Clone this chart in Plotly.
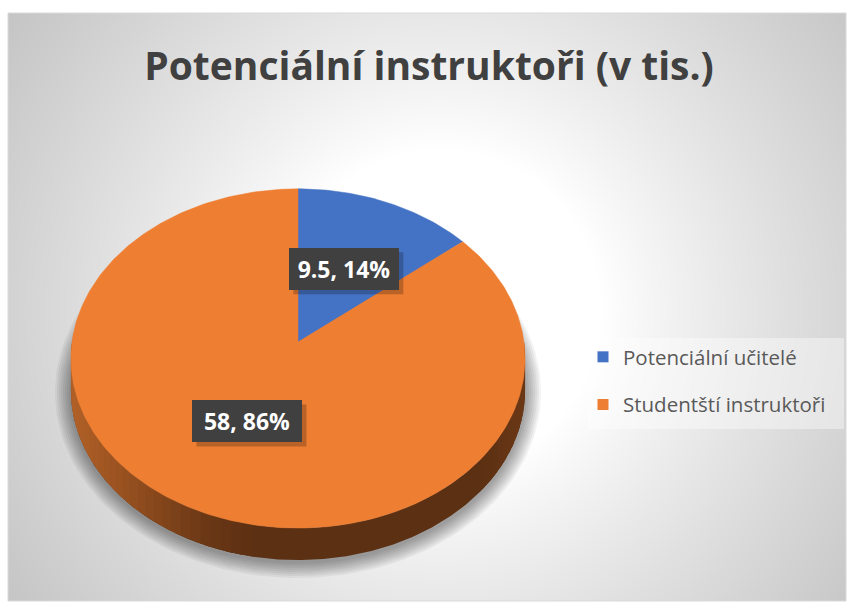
import numpy as np
import plotly.graph_objects as go

# ---------------- data ----------------
title_text = "Potenciální instruktoři (v tis.)"
categories = ["Potenciální učitelé", "Studentští instruktoři"]
values = [9.5, 58]
colors = ["#4472C4", "#EE7E32"]

# ---------------- layout constants (pixel space) ----------------
W, H = 847, 603
FX0, FY0, FX1, FY1 = 8, 13, 846, 601      # chart frame
CX, CY = 298, 342                          # projected pie centre
A, C, K = 226, 168, 0.097                  # tilt / perspective
DEPTH = 32
FONT = "Open Sans"

def proj(r, th):
    u = r * np.sin(th)
    v = r * np.cos(th)
    den = 1 + K * v
    return CX + A * u / den, CY - C * v / den

fig = go.Figure()

# ---------------- background radial gradient ----------------
nx, ny = 170, 118
dxc = (FX1 - FX0) / nx
dyc = (FY1 - FY0) / ny
xs = FX0 + dxc * (np.arange(nx) + 0.5)
ys = FY0 + dyc * (np.arange(ny) + 0.5)
XX, YY = np.meshgrid(xs, ys)
dist = np.sqrt((XX - 440) ** 2 + (YY - 310) ** 2)
gray = 255 - 58 * np.clip((dist - 160) / 360, 0, 1) ** 0.9
fig.add_trace(go.Heatmap(
    x=xs, y=ys, z=gray, zmin=0, zmax=255, zsmooth="best",
    colorscale=[[0, "rgb(0,0,0)"], [1, "rgb(255,255,255)"]],
    showscale=False, hoverinfo="skip"))

# ---------------- soft shadow ----------------
gcx, gcy = CX, (proj(1, 0)[1] + proj(1, np.pi)[1]) / 2
rx0 = max(proj(1, t)[0] for t in np.linspace(0, np.pi, 200)) - CX
ry0 = (proj(1, np.pi)[1] - proj(1, 0)[1]) / 2
tt = np.linspace(0, 2 * np.pi, 200)
for e in range(16, 0, -2):
    fig.add_trace(go.Scatter(
        x=gcx + (rx0 + e) * np.cos(tt),
        y=gcy + DEPTH + 2 + (ry0 + e) * np.sin(tt),
        mode="lines", fill="toself", line=dict(width=0),
        fillcolor="rgba(0,0,0,0.05)", showlegend=False, hoverinfo="skip"))

# ---------------- side of the pie ----------------
DARK = (92, 48, 19)
def side_rgb(xp):
    t = (xp - (CX - rx0)) / (2 * rx0)
    stops = [(0.0, (178, 97, 40)), (0.12, (150, 80, 32)), (0.3, (105, 55, 22)),
             (0.4, DARK), (0.9, DARK), (1.0, (108, 57, 23))]
    for (t0, c0), (t1, c1) in zip(stops[:-1], stops[1:]):
        if t <= t1:
            f = max(0.0, (t - t0) / (t1 - t0))
            return tuple(int(c0[i] + (c1[i] - c0[i]) * f) for i in range(3))
    return stops[-1][1]

th_all = np.linspace(np.pi / 2, 3 * np.pi / 2, 300)
sx, sy = proj(1, th_all)
fig.add_trace(go.Scatter(
    x=np.concatenate([sx, sx[::-1]]), y=np.concatenate([sy, (sy + DEPTH)[::-1]]),
    mode="lines", fill="toself", fillcolor="rgb(%d,%d,%d)" % DARK,
    line=dict(width=0), showlegend=False, hoverinfo="skip"))

NS = 70
edges = np.linspace(np.pi / 2, 3 * np.pi / 2, NS + 1)
step = edges[1] - edges[0]
for t0, t1 in zip(edges[:-1], edges[1:]):
    th = np.linspace(t0, t1 + step * 0.6, 4)
    ux, uy = proj(1, th)
    rgb = side_rgb(ux.mean())
    if rgb == DARK:
        continue
    col = "rgb(%d,%d,%d)" % rgb
    fig.add_trace(go.Scatter(
        x=np.concatenate([ux, ux[::-1]]),
        y=np.concatenate([uy, (uy + DEPTH)[::-1]]),
        mode="lines", fill="toself", fillcolor=col,
        line=dict(width=0), showlegend=False, hoverinfo="skip"))

# ---------------- top faces ----------------
total = sum(values)
fracs = [v / total for v in values]
start = 0.0
mids = []
for cat, frac, col in zip(categories, fracs, colors):
    t0, t1 = start * 2 * np.pi, (start + frac) * 2 * np.pi
    th = np.linspace(t0, t1, max(8, int(400 * frac)))
    ax_, ay_ = proj(1, th)
    fig.add_trace(go.Scatter(
        x=np.concatenate([[CX], ax_, [CX]]),
        y=np.concatenate([[CY], ay_, [CY]]),
        mode="lines", fill="toself", fillcolor=col,
        line=dict(width=0.5, color=col), showlegend=False, hoverinfo="skip"))
    mids.append((t0 + t1) / 2)
    start += frac

# ---------------- legend entries ----------------
for cat, col in zip(categories, colors):
    fig.add_trace(go.Scatter(
        x=[None], y=[None], mode="markers", name=cat, legendgroup=cat,
        marker=dict(symbol="square", size=11, color=col, line=dict(width=0))))

# ---------------- data labels ----------------
shapes = []
annotations = []
BW, BH = 110, 42
for val, frac, mid in zip(values, fracs, mids):
    lx, ly = proj(0.5, mid)
    shapes.append(dict(type="rect", xref="x", yref="y", layer="above",
                       x0=lx - BW / 2 + 4, x1=lx + BW / 2 + 4,
                       y0=ly - BH / 2 + 4, y1=ly + BH / 2 + 4,
                       fillcolor="rgba(0,0,0,0.22)", line=dict(width=0)))
    annotations.append(dict(
        x=lx, y=ly, xref="x", yref="y", showarrow=False,
        text=f"{val:g}, {round(frac * 100)}%",
        font=dict(family=FONT, size=23, color="white", weight="bold"),
        bgcolor="#404040", borderwidth=0, borderpad=2,
        width=BW - 4, height=BH - 4, xanchor="center", yanchor="middle"))

# frame border and legend background
shapes.insert(0, dict(type="rect", xref="x", yref="y", layer="above",
                      x0=FX0, x1=FX1, y0=FY0, y1=FY1,
                      line=dict(color="#d9d9d9", width=1), fillcolor="rgba(0,0,0,0)"))
shapes.insert(1, dict(type="rect", xref="x", yref="y", layer="above",
                      x0=588, x1=844, y0=338, y1=429,
                      line=dict(width=0), fillcolor="rgba(255,255,255,0.4)"))

fig.update_layout(
    width=W, height=H, margin=dict(l=0, r=0, t=0, b=0),
    paper_bgcolor="white", plot_bgcolor="white",
    xaxis=dict(range=[0, W], visible=False, fixedrange=True, domain=[0, 1]),
    yaxis=dict(range=[H, 0], visible=False, fixedrange=True, domain=[0, 1]),
    hovermode=False,
    title=dict(text=title_text, x=429 / W, xanchor="center",
               y=1 - 66 / H, yanchor="middle",
               font=dict(family=FONT, size=39, color="#404040", weight="bold")),
    legend=dict(x=583 / W, y=1 - 337 / H, xanchor="left", yanchor="top",
                bgcolor="rgba(0,0,0,0)", borderwidth=0,
                font=dict(family=FONT, size=20.5, color="#595959"),
                traceorder="grouped", tracegroupgap=18, itemclick=False,
                itemdoubleclick=False),
    shapes=shapes, annotations=annotations,
)

fig.write_html("out.html")
